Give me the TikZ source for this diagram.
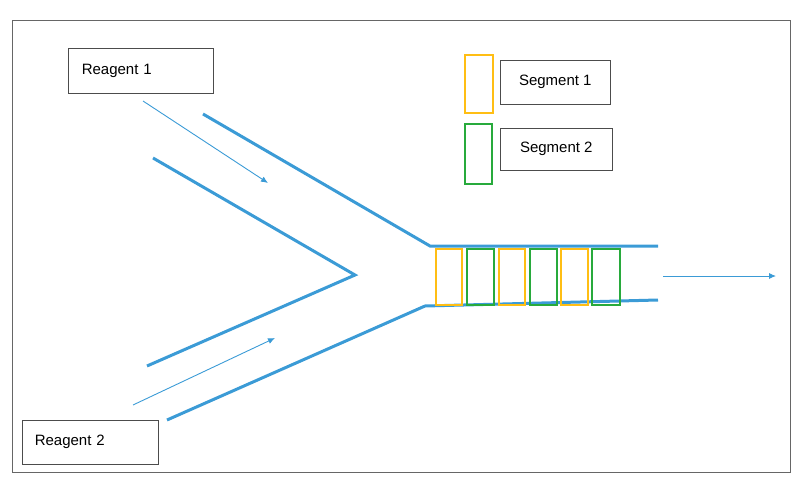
\documentclass[tikz,border=0pt]{standalone}
\usepackage{fontspec}
\setmainfont{Liberation Sans}
\usetikzlibrary{arrows.meta}
\begin{document}
\begin{tikzpicture}[x=1pt,y=-1pt,
  chan/.style={line width=3pt,draw={rgb,255:red,59;green,155;blue,214}},
  flow/.style={-{Latex[length=7pt,width=6pt]},draw={rgb,255:red,59;green,155;blue,214},line width=0.9pt},
  lbl/.style={draw=black!70,line width=0.6pt,anchor=north west,inner sep=0pt,font=\fontsize{15}{17}\selectfont},
  yseg/.style={draw={rgb,255:red,255;green,190;blue,20},line width=2.2pt},
  gseg/.style={draw={rgb,255:red,40;green,170;blue,60},line width=2.2pt}]
\useasboundingbox (0,0) rectangle (800,500);
\draw[black!60,line width=0.8pt] (12,20) rectangle (790,472);
\node[lbl,minimum width=145pt,minimum height=45pt,text width=130pt,align=left] (r1) at (68,48) {\hspace*{6pt}Reagent 1};
\node[lbl,minimum width=136pt,minimum height=44pt,text width=125pt,align=left] (r2) at (22,420) {\hspace*{7pt}Reagent 2};
\node[lbl,minimum width=110pt,minimum height=44pt,align=center] (s1) at (500,60) {Segment 1};
\node[lbl,minimum width=112pt,minimum height=42pt,align=center] (s2) at (500,128) {Segment 2};
\draw[yseg] (465,55) rectangle (493,113);
\draw[gseg] (465,124) rectangle (492,184);
\coordinate (a) at (203,114); \coordinate (b) at (430,246); \coordinate (c) at (658,246);
\coordinate (d) at (153,158); \coordinate (e) at (355,275); \coordinate (f) at (147,366);
\coordinate (g) at (167,420); \coordinate (h) at (425,306); \coordinate (i) at (658,300);
\draw[chan] (a) -- (b) -- (c);
\draw[chan] (d) -- (e) -- (f);
\draw[chan] (g) -- (h) -- (i);
\draw[yseg] (436,249) rectangle (462,305);
\draw[gseg] (467,249) rectangle (494,305);
\draw[yseg] (499,249) rectangle (525,305);
\draw[gseg] (530,249) rectangle (557,305);
\draw[yseg] (561,249) rectangle (588,305);
\draw[gseg] (592,249) rectangle (620,305);
\coordinate (p1) at (143,101); \coordinate (q1) at (268,183);
\coordinate (p2) at (133,405); \coordinate (q2) at (275,338);
\coordinate (p3) at (663,276); \coordinate (q3) at (776,276);
\draw[flow] (p1) -- (q1);
\draw[flow] (p2) -- (q2);
\draw[flow] (p3) -- (q3);
\end{tikzpicture}
\end{document}
